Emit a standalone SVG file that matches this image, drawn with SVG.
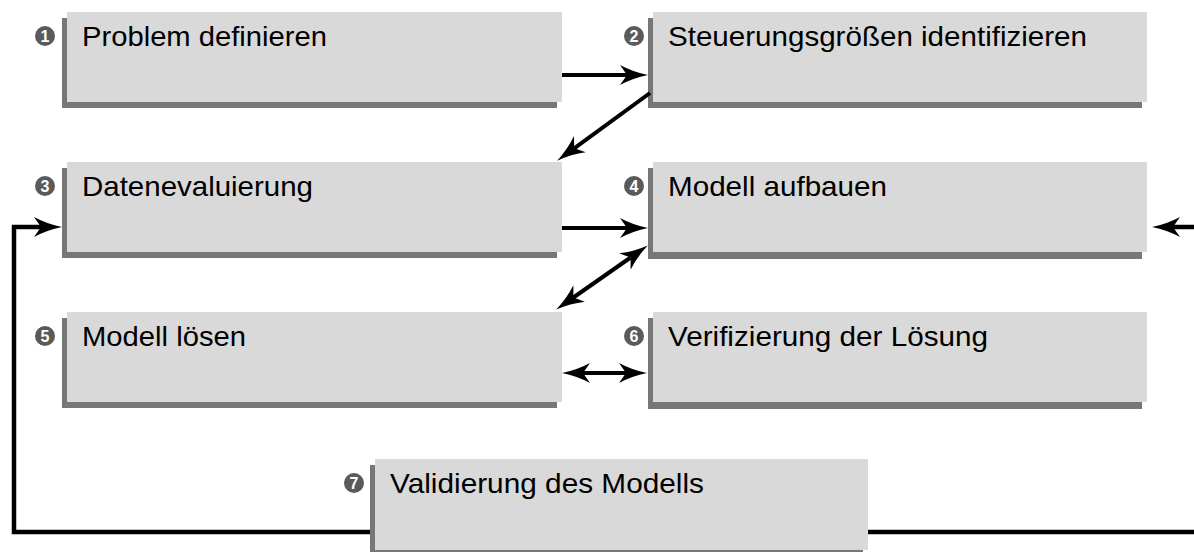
<svg xmlns="http://www.w3.org/2000/svg" width="1194" height="552" viewBox="0 0 1194 552">
  <style>
    .box { fill: #d9d9d9; }
    .shadow { fill: #777777; }
    .label { font-family: "Liberation Sans", Arial, sans-serif; font-size: 28px; fill: #000; }
    .badge { fill: #5a5a5a; }
    .badge-num { font-family: "Liberation Sans", Arial, sans-serif; font-size: 16px; font-weight: bold; fill: #fff; text-anchor: middle; }
    .conn { fill: none; stroke: #000; stroke-width: 4; }
    .loop { fill: none; stroke: #000; stroke-width: 4.5; }
  </style>
  <defs>
    <marker id="head" viewBox="-8 -11 30 22" markerUnits="userSpaceOnUse" markerWidth="30" markerHeight="22" refX="0" refY="0" orient="auto-start-reverse">
      <path d="M-7,-10 Q6,-3 21,0 Q6,3 -7,10 L0,0 Z" fill="#000"/>
    </marker>
  </defs>
  <rect width="1194" height="552" fill="#fff"/>

  <!-- step nodes: shadow, face, badge, label -->
  <g id="node1">
    <rect class="shadow" x="62" y="18" width="495" height="90"/>
    <rect class="box" x="67" y="12" width="495" height="90"/>
    <circle class="badge" cx="45" cy="36" r="10"/>
    <text class="badge-num" x="45" y="41.8">1</text>
    <text class="label" x="82" y="46" textLength="245" lengthAdjust="spacingAndGlyphs">Problem definieren</text>
  </g>
  <g id="node2">
    <rect class="shadow" x="648" y="18" width="494" height="90"/>
    <rect class="box" x="653" y="12" width="494" height="90"/>
    <circle class="badge" cx="634" cy="36" r="10"/>
    <text class="badge-num" x="634" y="41.8">2</text>
    <text class="label" x="668" y="46" textLength="419" lengthAdjust="spacingAndGlyphs">Steuerungsgrößen identifizieren</text>
  </g>
  <g id="node3">
    <rect class="shadow" x="62" y="168" width="495" height="90"/>
    <rect class="box" x="67" y="162" width="495" height="90"/>
    <circle class="badge" cx="45" cy="186" r="10"/>
    <text class="badge-num" x="45" y="191.8">3</text>
    <text class="label" x="82" y="196" textLength="231" lengthAdjust="spacingAndGlyphs">Datenevaluierung</text>
  </g>
  <g id="node4">
    <rect class="shadow" x="648" y="168" width="494" height="91"/>
    <rect class="box" x="653" y="162" width="494" height="90"/>
    <circle class="badge" cx="634" cy="186" r="10"/>
    <text class="badge-num" x="634" y="191.8">4</text>
    <text class="label" x="668" y="196" textLength="219" lengthAdjust="spacingAndGlyphs">Modell aufbauen</text>
  </g>
  <g id="node5">
    <rect class="shadow" x="62" y="318" width="495" height="90"/>
    <rect class="box" x="67" y="312" width="495" height="90"/>
    <circle class="badge" cx="45" cy="336" r="10"/>
    <text class="badge-num" x="45" y="341.8">5</text>
    <text class="label" x="82" y="346" textLength="164" lengthAdjust="spacingAndGlyphs">Modell lösen</text>
  </g>
  <g id="node6">
    <rect class="shadow" x="648" y="318" width="494" height="91"/>
    <rect class="box" x="653" y="312" width="494" height="90"/>
    <circle class="badge" cx="634" cy="336" r="10"/>
    <text class="badge-num" x="634" y="341.8">6</text>
    <text class="label" x="668" y="346" textLength="320" lengthAdjust="spacingAndGlyphs">Verifizierung der Lösung</text>
  </g>
  <g id="node7">
    <rect class="shadow" x="370" y="465" width="493" height="90"/>
    <rect class="box" x="375" y="459" width="493" height="91"/>
    <circle class="badge" cx="354" cy="483" r="10"/>
    <text class="badge-num" x="354" y="488.8">7</text>
    <text class="label" x="390" y="493" textLength="314" lengthAdjust="spacingAndGlyphs">Validierung des Modells</text>
  </g>

  <!-- connectors -->
  <g id="connectors">
    <path class="conn" d="M562,75 H627" marker-end="url(#head)"/>
    <path class="conn" d="M650,93 L574.2,148.3" marker-end="url(#head)"/>
    <path class="conn" d="M562,228 H627" marker-end="url(#head)"/>
    <path class="conn" d="M573.4,297.5 L630.6,257.5" marker-start="url(#head)" marker-end="url(#head)"/>
    <path class="conn" d="M583,373 H626" marker-start="url(#head)" marker-end="url(#head)"/>
    <path class="loop" d="M370,532 H14 V227 H41" marker-end="url(#head)"/>
    <path class="loop" d="M868,532 H1200 V227 H1173" marker-end="url(#head)"/>
  </g>
</svg>
